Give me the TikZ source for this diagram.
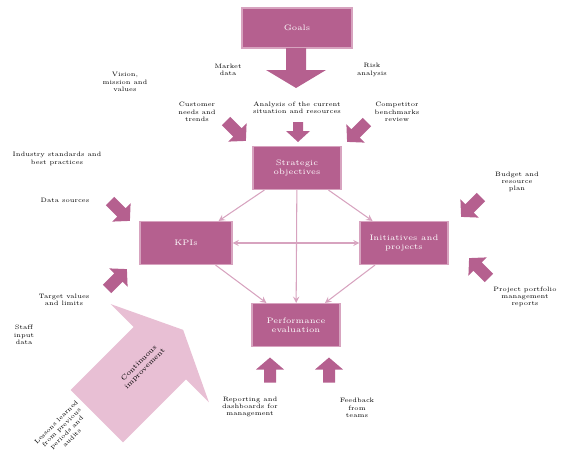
\documentclass[tikz,border=0pt]{standalone}
\usepackage{amsmath}
\definecolor{plum}{HTML}{B5608F}
\definecolor{plumedge}{HTML}{D7A3BF}
\definecolor{plumpale}{HTML}{E8BFD4}

\tikzset{pics/blockarrow/.style n args={5}{code={
	\fill[#5] ({-#1/2},{-#3/2}) -- ({#1/2-#4},{-#3/2}) -- ({#1/2-#4},{-#2/2}) -- ({#1/2},0)
		-- ({#1/2-#4},{#2/2}) -- ({#1/2-#4},{#3/2}) -- ({-#1/2},{#3/2}) -- cycle;}}}

\begin{document}
\begin{tikzpicture}[x=0.02cm,y=-0.02cm,
	box/.style={rectangle, fill=plum, draw=plumedge, line width=0.6pt, text=white, font=\fontsize{4.5}{5}\selectfont, align=center, minimum width=1.76cm, minimum height=0.86cm},
	note/.style={font=\fontsize{3.6}{4.2}\selectfont, align=center, inner sep=0pt},
	link/.style={->, >=stealth, draw=plumedge, line width=0.6pt}]
	\useasboundingbox (0,0) rectangle (561,470);

	\pic[rotate=45] (a_big) at (140,373) {blockarrow={122}{139}{74}{33}{plumpale}};
	\node[rotate=45, font=\fontsize{4}{4.6}\selectfont, align=center, inner sep=0pt] (improve) at (142,366) {Continuous\\improvement};

	\node[box, minimum width=2.2cm, minimum height=0.8cm] (goal) at (297,28) {Goals};
	\node[box] (obj) at (297,168) {Strategic\\objectives};
	\node[box, minimum width=1.84cm] (kpi) at (186,243) {KPIs};
	\node[box] (init) at (404,243) {Initiatives and\\projects};
	\node[box] (perf) at (296,325) {Performance\\evaluation};

	\pic[rotate=-90] (a_goal) at (296,68) {blockarrow={40}{60}{20}{18}{plum}};
	\pic[rotate=-90] (a_top) at (298,132) {blockarrow={20}{24}{10}{11}{plum}};
	\pic[rotate=-45] (a_tl) at (236,131) {blockarrow={28}{26}{12}{12}{plum}};
	\pic[rotate=225] (a_tr) at (357,132) {blockarrow={28}{26}{12}{12}{plum}};
	\pic[rotate=-45] (a_kpi1) at (120,211) {blockarrow={28}{26}{12}{12}{plum}};
	\pic[rotate=45] (a_kpi2) at (117,279) {blockarrow={28}{26}{12}{12}{plum}};
	\pic[rotate=225] (a_init1) at (471,207) {blockarrow={28}{26}{12}{12}{plum}};
	\pic[rotate=135] (a_init2) at (479,268) {blockarrow={28}{26}{12}{12}{plum}};
	\pic[rotate=90] (a_perf1) at (270,370) {blockarrow={25}{28}{12}{12}{plum}};
	\pic[rotate=90] (a_perf2) at (329,370) {blockarrow={25}{28}{12}{12}{plum}};

	\draw[link] (obj) to (kpi);
	\draw[link] (obj) to (init);
	\draw[link] (obj) to (perf);
	\draw[link] (kpi) to (perf);
	\draw[link] (init) to (perf);
	\draw[link, <->] (kpi) to (init);

	\node[note] (n_vision) at (125,82) {Vision,\\mission and\\values};
	\node[note] (n_market) at (228,70) {Market\\data};
	\node[note] (n_risk) at (372,70) {Risk\\analysis};
	\node[note] (n_cust) at (197,112) {Customer\\needs and\\trends};
	\node[note] (n_sit) at (297,108) {Analysis of the current\\situation and resources};
	\node[note] (n_comp) at (397,112) {Competitor\\benchmarks\\review};
	\node[note] (n_std) at (57,159) {Industry standards and\\best practices};
	\node[note] (n_data) at (65,200) {Data sources};
	\node[note] (n_budget) at (517,182) {Budget and\\resource\\plan};
	\node[note] (n_port) at (525,297) {Project portfolio\\management\\reports};
	\node[note] (n_target) at (64,300) {Target values\\and limits};
	\node[note] (n_staff) at (24,335) {Staff\\input\\data};
	\node[note, rotate=45] (n_lessons) at (64,430) {Lessons learned\\from previous\\periods and\\audits};
	\node[note] (n_report) at (250,407) {Reporting and\\dashboards for\\management};
	\node[note] (n_feed) at (357,408) {Feedback\\from\\teams};
\end{tikzpicture}
\end{document}
